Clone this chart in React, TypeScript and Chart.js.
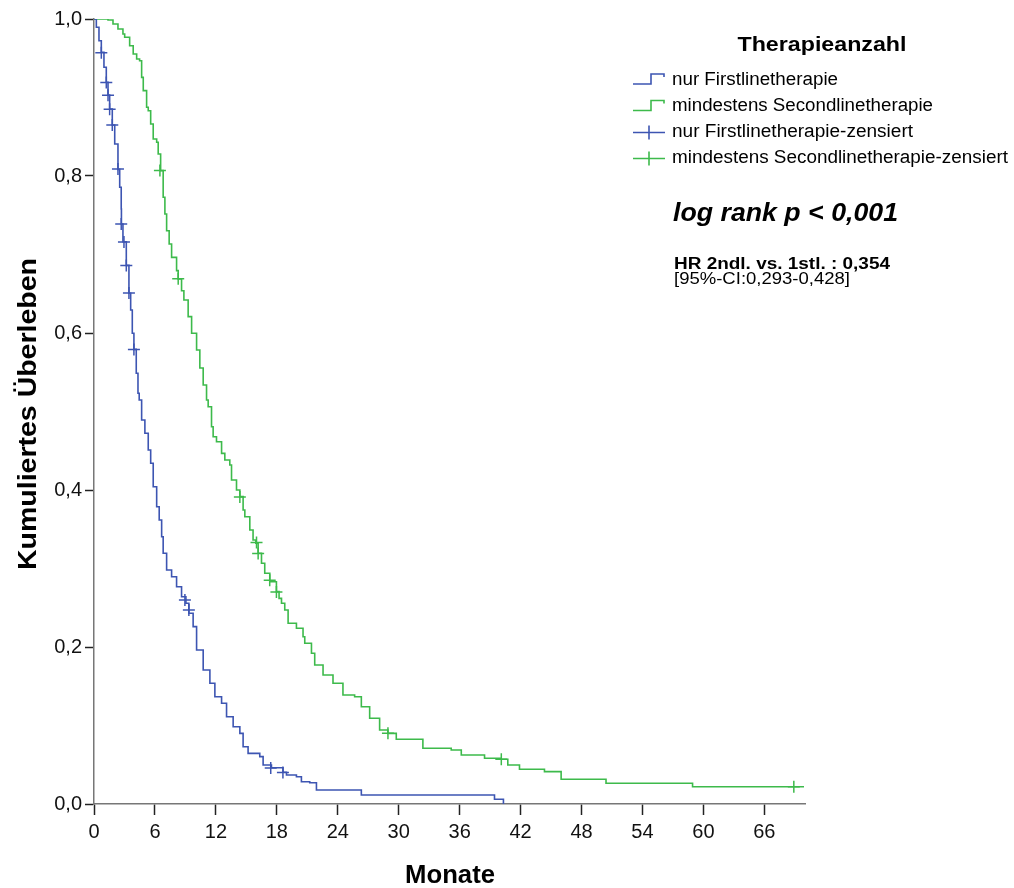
import { useEffect, useRef } from 'react';
import { Chart, registerables } from 'chart.js';
Chart.register(...registerables);

// ---- Data (months, cumulative survival) ----
const firstLineMonths = [0, 0.23, 0.49, 0.72, 0.98, 1.21, 1.38, 1.54, 1.8, 2.04, 2.36, 2.53, 2.68, 2.7, 2.85, 3.18, 3.44, 3.61, 3.77, 3.93, 4.16, 4.33, 4.45, 4.69, 5.01, 5.34, 5.58, 5.83, 6.17, 6.42, 6.66, 6.81, 7.15, 7.64, 8.13, 8.62, 9.05, 9.34, 9.76, 10.1, 10.75, 11.41, 11.9, 12.56, 13.05, 13.7, 14.36, 14.68, 15.17, 16.32, 16.65, 17.47, 18.61, 18.95, 19.93, 20.42, 21.24, 21.9, 26.32, 39.43, 40.31];
const firstLineSurv = [1, 0.9894, 0.9723, 0.9576, 0.9385, 0.9194, 0.9032, 0.8854, 0.865, 0.8408, 0.8085, 0.7856, 0.758, 0.7389, 0.7163, 0.6862, 0.6506, 0.6293, 0.5996, 0.5792, 0.5487, 0.5232, 0.5146, 0.4892, 0.4722, 0.451, 0.434, 0.4042, 0.3787, 0.3618, 0.3405, 0.3194, 0.2981, 0.2895, 0.2768, 0.2641, 0.2557, 0.2429, 0.2259, 0.1962, 0.1707, 0.1538, 0.1367, 0.1283, 0.1112, 0.0985, 0.09, 0.073, 0.0645, 0.0603, 0.0497, 0.0462, 0.0404, 0.0369, 0.0348, 0.0284, 0.0271, 0.0178, 0.0115, 0.006, 0];

const secondLineMonths = [0, 0.88, 1.38, 1.87, 2.36, 2.85, 3.02, 3.51, 3.86, 4.2, 4.49, 4.69, 4.85, 5.18, 5.34, 5.58, 5.83, 6.17, 6.32, 6.56, 6.81, 6.98, 7.15, 7.4, 7.64, 8.13, 8.29, 8.62, 8.85, 9.27, 9.61, 10.1, 10.42, 10.75, 11.08, 11.24, 11.57, 11.73, 12.06, 12.56, 12.88, 13.37, 13.54, 14.03, 14.36, 14.68, 14.85, 15.34, 15.66, 15.93, 16.16, 16.49, 16.81, 17.31, 17.96, 18.22, 18.46, 18.78, 19.11, 19.93, 20.58, 20.75, 21.41, 21.73, 22.55, 23.53, 24.51, 25.66, 26.32, 27.14, 28.12, 28.94, 29.76, 32.38, 35.17, 36.16, 38.45, 39.99, 40.74, 41.89, 44.35, 45.99, 50.41, 58.93, 69.9];
const secondLineSurv = [1, 1, 0.9987, 0.9936, 0.9873, 0.9809, 0.9767, 0.966, 0.9554, 0.949, 0.9469, 0.9257, 0.9087, 0.8875, 0.8832, 0.8662, 0.8471, 0.8429, 0.828, 0.8068, 0.7729, 0.7516, 0.7303, 0.7134, 0.6964, 0.6794, 0.6688, 0.6539, 0.642, 0.6208, 0.5996, 0.5783, 0.5554, 0.5338, 0.5146, 0.5061, 0.4806, 0.4679, 0.4615, 0.4467, 0.4382, 0.4318, 0.4127, 0.4, 0.3915, 0.3745, 0.366, 0.349, 0.3363, 0.3321, 0.3194, 0.3066, 0.2939, 0.2832, 0.2705, 0.262, 0.2557, 0.2471, 0.2302, 0.2238, 0.2131, 0.2047, 0.192, 0.1771, 0.1643, 0.1538, 0.1389, 0.1367, 0.1239, 0.1092, 0.0943, 0.09, 0.0824, 0.071, 0.0688, 0.0624, 0.0582, 0.057, 0.0497, 0.0442, 0.0412, 0.0315, 0.0264, 0.022, 0.022];

const firstLineCensorMonths = [0.72, 1.21, 1.38, 1.54, 1.8, 2.36, 2.68, 2.95, 3.18, 3.44, 3.93, 8.95, 9.34, 17.4, 18.6];
const firstLineCensorSurv = [0.957, 0.919, 0.903, 0.885, 0.865, 0.809, 0.739, 0.716, 0.686, 0.651, 0.579, 0.26, 0.247, 0.046, 0.04];

const secondLineCensorMonths = [6.49, 8.29, 14.36, 16.0, 16.16, 17.3, 17.96, 28.94, 40.1, 68.9];
const secondLineCensorSurv = [0.807, 0.669, 0.391, 0.333, 0.319, 0.285, 0.27, 0.09, 0.057, 0.022];

const xTickValues = [0, 6, 12, 18, 24, 30, 36, 42, 48, 54, 60, 66];
const yTickValues = [0, 0.2, 0.4, 0.6, 0.8, 1.0];

const legendTitle = 'Therapieanzahl';
const legendLabels = [
  'nur Firstlinetherapie',
  'mindestens Secondlinetherapie',
  'nur Firstlinetherapie-zensiert',
  'mindestens Secondlinetherapie-zensiert',
];
const statText = 'log rank p < 0,001';
const hrText = 'HR 2ndl. vs. 1stl. : 0,354';
const ciText = '[95%-CI:0,293-0,428]';
const xTitle = 'Monate';
const yTitle = 'Kumuliertes Überleben';

const BLUE = '#3d55b2';
const GREEN = '#3dba4b';

const toPts = (xs: number[], ys: number[]) => xs.map((x, i) => ({ x, y: ys[i] }));

function fitText(ctx: CanvasRenderingContext2D, text: string, x: number, y: number, font: string, targetW: number, align: 'left' | 'center' = 'left') {
  ctx.save();
  ctx.font = font;
  const w = ctx.measureText(text).width;
  const sx = targetW / w;
  ctx.translate(x, y);
  ctx.scale(sx, 1);
  ctx.textBaseline = 'middle';
  ctx.textAlign = align;
  ctx.fillStyle = '#000';
  ctx.fillText(text, 0, 0);
  ctx.restore();
}

const textPlugin = {
  id: 'textPlugin',
  afterDraw(chart: any) {
    const ctx: CanvasRenderingContext2D = chart.ctx;
    const SANS = '"Liberation Sans", Arial, sans-serif';
    fitText(ctx, legendTitle, 822, 45, `bold 20px ${SANS}`, 169, 'center');
    const ys = [80, 106.5, 132.5, 158.5];
    const widths = [166, 261, 241, 336];
    ctx.save();
    ctx.lineWidth = 1.6;
    [BLUE, GREEN].forEach((c, i) => {
      const y = ys[i];
      ctx.strokeStyle = c;
      ctx.beginPath();
      ctx.moveTo(633, y + 4);
      ctx.lineTo(651, y + 4);
      ctx.lineTo(651, y - 6);
      ctx.lineTo(664, y - 6);
      ctx.lineTo(664, y - 3);
      ctx.stroke();
    });
    [BLUE, GREEN].forEach((c, i) => {
      const y = ys[i + 2];
      ctx.strokeStyle = c;
      ctx.beginPath();
      ctx.moveTo(633, y);
      ctx.lineTo(665, y);
      ctx.moveTo(649, y - 7);
      ctx.lineTo(649, y + 7);
      ctx.stroke();
    });
    ctx.restore();
    legendLabels.forEach((t, i) => fitText(ctx, t, 672, ys[i], `18px ${SANS}`, widths[i]));
    fitText(ctx, statText, 673, 214, `italic bold 26px ${SANS}`, 225);
    fitText(ctx, hrText, 674, 264.5, `bold 16px ${SANS}`, 216);
    fitText(ctx, ciText, 674, 279.5, `16px ${SANS}`, 176);
    fitText(ctx, xTitle, 450, 876, `bold 25px ${SANS}`, 90, 'center');
    ctx.save();
    ctx.translate(29, 414);
    ctx.rotate(-Math.PI / 2);
    fitText(ctx, yTitle, 0, 0, `bold 26px ${SANS}`, 312, 'center');
    ctx.restore();
  },
};

export default function App() {
  const ref = useRef<HTMLCanvasElement>(null);
  useEffect(() => {
    const TICKFONT = { family: '"Liberation Sans Narrow", "Liberation Sans", Arial, sans-serif', size: 20 };
    const chart = new Chart(ref.current!, {
      type: 'scatter',
      data: {
        datasets: [
          {
            label: legendLabels[0],
            data: toPts(firstLineMonths, firstLineSurv),
            showLine: true,
            stepped: 'before',
            borderColor: BLUE,
            borderWidth: 1.6,
            pointRadius: 0,
            fill: false,
          },
          {
            label: legendLabels[1],
            data: toPts(secondLineMonths, secondLineSurv),
            showLine: true,
            stepped: 'before',
            borderColor: GREEN,
            borderWidth: 1.6,
            pointRadius: 0,
            fill: false,
          },
          {
            label: legendLabels[2],
            data: toPts(firstLineCensorMonths, firstLineCensorSurv),
            showLine: false,
            pointStyle: 'cross',
            pointRadius: 6,
            borderColor: BLUE,
            backgroundColor: BLUE,
            pointBorderWidth: 1.5,
          },
          {
            label: legendLabels[3],
            data: toPts(secondLineCensorMonths, secondLineCensorSurv),
            showLine: false,
            pointStyle: 'cross',
            pointRadius: 6,
            borderColor: GREEN,
            backgroundColor: GREEN,
            pointBorderWidth: 1.5,
          },
        ],
      },
      options: {
        animation: false,
        responsive: false,
        layout: { padding: { top: 19, right: 209, left: 0, bottom: 0 } },
        plugins: { legend: { display: false }, tooltip: { enabled: false } },
        scales: {
          x: {
            type: 'linear',
            min: 0,
            max: 70,
            afterBuildTicks: (s: any) => { s.ticks = xTickValues.map((v) => ({ value: v })); },
            afterFit: (s: any) => { s.height = 84; },
            ticks: { color: '#111', font: TICKFONT, padding: 5, maxRotation: 0, callback: (v: any) => String(v) },
            grid: { drawOnChartArea: false, drawTicks: true, tickLength: 11, tickColor: '#222', tickWidth: 1.5 },
            border: { display: true, color: '#777', width: 1.5 },
          },
          y: {
            type: 'linear',
            min: 0,
            max: 1,
            afterBuildTicks: (s: any) => { s.ticks = yTickValues.map((v) => ({ value: v })); },
            afterFit: (s: any) => { s.width = 94; },
            ticks: { color: '#111', font: TICKFONT, padding: 3, callback: (v: any) => Number(v).toFixed(1).replace('.', ',') },
            grid: { drawOnChartArea: false, drawTicks: true, tickLength: 9, tickColor: '#222', tickWidth: 1.5 },
            border: { display: true, color: '#777', width: 1.5 },
          },
        },
      },
      plugins: [textPlugin],
    } as any);
    return () => chart.destroy();
  }, []);
  return (
    <div style={{ position: 'fixed', left: 0, top: 0, width: 1014, height: 888, background: '#fff' }}>
      <canvas ref={ref} width={1014} height={888} style={{ display: 'block' }} />
    </div>
  );
}
